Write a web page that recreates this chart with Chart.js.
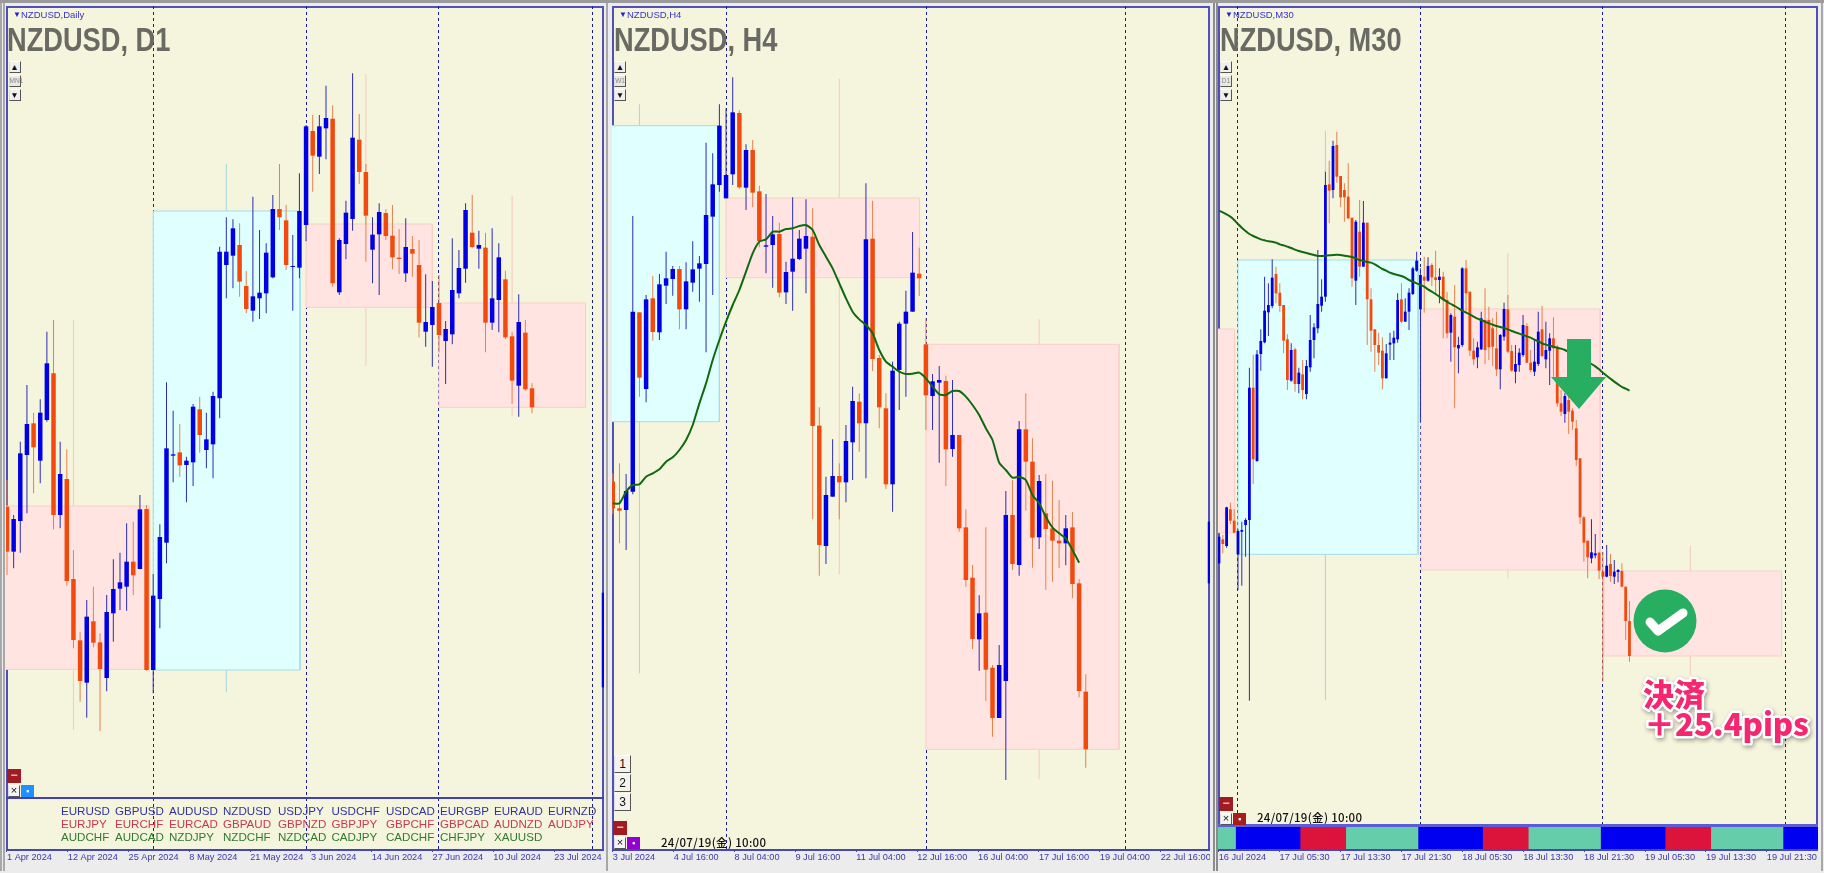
<!DOCTYPE html>
<html><head><meta charset="utf-8"><title>NZDUSD</title>
<script src="https://cdn.jsdelivr.net/npm/chart.js@4/dist/chart.umd.js"></script>
<style>
html,body{margin:0;padding:0;width:1824px;height:873px;overflow:hidden;background:#ececec;font-family:"Liberation Sans",sans-serif}
.abs{position:absolute}
.frame{position:absolute;box-sizing:border-box;border:2px solid #5050b8;background:#f5f4dc}
.side{position:absolute;top:3px;height:868px;width:2px;background:#8c8c8c}
canvas{position:absolute;display:block;filter:blur(0.35px)}
.title{position:absolute;font-family:"Liberation Sans",sans-serif;font-weight:bold;font-size:33px;line-height:33px;color:#6a6a64;white-space:pre;transform:scaleX(0.825);transform-origin:0 0}
.sym{position:absolute;font-size:9.5px;line-height:11px;color:#3333cc;white-space:pre}
.btn{position:absolute;box-sizing:border-box;background:#f0f0ec;border:1px solid;border-color:#fff #555 #555 #ddd;text-align:center;color:#111;font-size:8px;line-height:11px}
.tbl{position:absolute;font-size:11.6px;line-height:13px;white-space:pre}
.stamp{position:absolute;font-size:11.5px;line-height:13px;color:#111;font-family:"Noto Sans CJK JP","Liberation Sans",sans-serif;font-weight:500;letter-spacing:.3px;white-space:pre}
</style></head><body>
<script>
// ---- NZDUSD Daily, read in points off the picture
const d1Open=[880,745,837,1035,1130,1018,1140,1280,855,963,663,479,352,536,473,366,560,634,640,715,693,873,390,603,772,1033,1043,1005,1013,1172,1050,1067,1205,1605,1633,1665,1542,1468,1505,1520,1568,1773,1739,1599,1597,1725,2007,1930,2015,2044,1523,1668,1743,1981,1884,1651,1697,1761,1693,1627,1580,1653,1605,1405,1425,1491,1377,1397,1520,1594,1702,1654,1657,1432,1500,1562,1391,1243,1402,1235];
const d1Close=[745,843,1040,1128,1058,1162,1310,855,978,657,480,357,550,472,393,564,633,653,715,674,872,390,613,789,1055,1037,1004,1018,1180,1095,1082,1212,1645,1645,1715,1555,1473,1511,1522,1642,1773,1748,1605,1602,1767,2021,1933,2021,2046,1550,1680,1762,1987,1884,1753,1696,1764,1692,1628,1623,1659,1639,1432,1434,1479,1395,1413,1530,1596,1770,1659,1665,1432,1505,1628,1388,1258,1434,1232,1178];
const d1High=[960,855,1075,1245,1162,1202,1405,1440,1075,1052,750,505,600,640,500,615,722,742,830,835,915,885,678,827,1253,1168,1128,1030,1188,1210,1162,1225,1660,1748,1742,1730,1587,1810,1710,1670,1815,1908,1785,1695,1880,2025,2055,2055,2143,2084,1685,1798,2180,2058,1908,1748,1790,1772,1785,1713,1745,1692,1680,1577,1557,1575,1437,1685,1650,1790,1815,1708,1702,1715,1670,1588,1405,1517,1440,1250];
const d1Low=[675,695,742,860,920,950,1135,812,815,643,455,295,247,458,207,326,475,570,568,615,692,388,320,515,710,953,970,893,942,1042,995,965,1145,1505,1535,1510,1460,1435,1443,1460,1565,1710,1590,1468,1565,1676,1825,1878,1922,1540,1515,1622,1708,1848,1615,1550,1515,1680,1592,1578,1554,1570,1388,1360,1300,1343,1248,1367,1505,1552,1655,1594,1343,1410,1403,1383,1188,1150,1228,1160];
const d1Ticks=["1 Apr 2024","12 Apr 2024","25 Apr 2024","8 May 2024","21 May 2024","3 Jun 2024","14 Jun 2024","27 Jun 2024","10 Jul 2024","23 Jul 2024"];
const d1Seps=[22,45,65,88.1];
const d1BoxFrom=[-1,22,45,65], d1BoxTo=[21.4,44.1,64,87.05], d1BoxMid=[10,33,54,76];
const d1BoxTop=[882,1767,1728,1491], d1BoxBottom=[392,390,1478,1178], d1BoxHigh=[1440,1908,2178,1812], d1BoxLow=[210,323,1302,1152];
const d1BoxKind=["down","up","down","down"];
const d1Edge=[338,622];

// ---- NZDUSD H4
const h4Open=[955,875,870,925,1463,1233,1505,1403,1543,1563,1593,1472,1552,1594,1608,1750,1845,1805,1877,2061,1837,1950,1826,1660,1665,1698,1523,1585,1623,1654,1690,1123,762,910,972,953,1073,1195,1130,1684,1326,1175,947,1290,1429,1465,1579,1367,1212,1252,1257,1053,1095,818,667,482,562,397,246,357,855,705,1112,1015,788,860,815,778,770,818,650,325];
const h4Close=[875,868,927,1465,1267,1502,1404,1547,1565,1593,1472,1556,1592,1610,1755,1847,2023,1875,2063,1838,1950,1822,1677,1664,1697,1522,1584,1624,1684,1692,1122,765,915,972,953,1077,1197,1130,1682,1323,1178,947,1288,1429,1465,1582,1565,1214,1256,1260,1052,1095,815,660,483,560,391,246,405,855,708,1112,1015,787,957,813,778,770,815,648,327,152];
const h4High=[980,1010,978,1752,1463,1515,1572,1578,1645,1602,1602,1613,1676,1632,1972,1940,2087,2075,2168,2069,1967,1980,1843,1818,1752,1732,1615,1808,1710,1802,1775,1178,970,1082,1010,1125,1240,1220,1850,1798,1335,1220,1315,1435,1528,1704,1657,1445,1278,1302,1273,1260,1095,872,705,614,818,405,465,927,960,1137,1220,1085,975,978,958,900,855,864,662,377];
const h4Low=[858,770,750,917,1210,1193,1378,1380,1488,1513,1412,1412,1525,1495,1343,1515,1825,1805,1845,1834,1770,1778,1658,1580,1537,1508,1488,1468,1620,1520,842,673,708,910,842,893,960,1045,965,1287,1115,933,865,1170,1210,1465,1512,1110,1110,1012,942,1030,805,640,453,388,297,190,246,60,690,673,868,697,753,630,655,696,704,605,308,97];
const h4Ma=[890,890,925,945,947,970,980,992,1015,1028,1050,1080,1125,1190,1250,1320,1380,1435,1485,1530,1585,1640,1675,1682,1705,1705,1713,1715,1722,1725,1710,1665,1630,1595,1550,1505,1465,1442,1425,1400,1350,1315,1300,1285,1278,1279,1282,1265,1240,1217,1215,1227,1227,1210,1185,1155,1115,1080,1012,990,967,970,960,915,890,850,818,800,785,750,712];
const h4Ticks=["3 Jul 2024","4 Jul 16:00","8 Jul 04:00","9 Jul 16:00","11 Jul 04:00","12 Jul 16:00","16 Jul 04:00","17 Jul 16:00","19 Jul 04:00","22 Jul 16:00"];
const h4Seps=[17.08,47.08,77];
const h4BoxFrom=[-1,17,47], h4BoxTo=[16,46.05,76], h4BoxMid=[4,34,64];
const h4BoxTop=[2023,1806,1367], h4BoxBottom=[1135,1567,152], h4BoxHigh=[2087,2164,1442], h4BoxLow=[380,677,62];
const h4BoxKind=["up","down","down"];
const h4Edge=[650,835];

// ---- NZDUSD M30
const m30Open=[710,782,762,872,838,737,805,825,840,1237,1017,1338,1373,1463,1482,1578,1522,1485,1382,1258,1352,1248,1277,1218,1298,1380,1415,1483,1510,1847,1830,1965,1872,1830,1810,1747,1558,1705,1600,1732,1502,1412,1365,1348,1265,1366,1370,1382,1502,1435,1465,1518,1588,1472,1570,1558,1605,1568,1560,1570,1500,1402,1450,1355,1365,1595,1525,1348,1328,1352,1440,1440,1415,1355,1292,1390,1472,1347,1285,1305,1335,1422,1312,1285,1308,1412,1322,1348,1385,1360,1190,1158,1200,1168,1115,1025,848,778,725,734,742,685,670,708,670,684,687,640,537];
const m30Close=[790,768,878,838,802,807,810,840,1237,1022,1337,1377,1468,1485,1567,1520,1482,1378,1260,1350,1248,1282,1230,1302,1380,1418,1488,1510,1845,1828,1962,1870,1808,1808,1745,1565,1735,1600,1732,1502,1408,1365,1342,1265,1340,1372,1387,1500,1435,1465,1522,1595,1618,1575,1558,1602,1568,1560,1570,1500,1400,1455,1358,1365,1595,1520,1348,1322,1358,1445,1350,1358,1360,1292,1395,1473,1345,1288,1308,1342,1425,1312,1290,1315,1405,1332,1350,1385,1355,1190,1165,1212,1165,1135,1020,848,772,728,743,740,688,670,703,672,685,690,640,537,432];
const m30High=[790,795,880,892,872,812,835,845,1297,1335,1350,1412,1570,1550,1622,1600,1550,1485,1397,1370,1357,1297,1320,1320,1455,1430,1650,1562,1885,1918,1978,2005,1872,1850,1910,1747,1740,1800,1797,1732,1535,1412,1402,1388,1368,1402,1408,1520,1550,1505,1535,1600,1645,1595,1630,1628,1610,1648,1595,1585,1525,1460,1545,1390,1598,1620,1525,1385,1375,1465,1535,1480,1445,1465,1398,1492,1515,1365,1365,1355,1455,1430,1350,1380,1465,1482,1435,1400,1448,1365,1230,1220,1220,1175,1140,1025,852,778,842,798,745,745,765,738,720,693,710,640,597];
const m30Low=[710,740,757,828,800,630,643,730,298,948,1015,1288,1370,1392,1475,1490,1465,1340,1230,1255,1225,1220,1202,1202,1285,1325,1400,1465,1495,1730,1805,1852,1778,1735,1742,1540,1485,1570,1600,1365,1345,1285,1305,1232,1265,1320,1320,1372,1430,1435,1410,1515,1585,1135,1462,1555,1542,1515,1490,1385,1385,1315,1175,1280,1360,1465,1332,1305,1295,1350,1308,1320,1302,1272,1232,1378,1340,1285,1250,1285,1330,1310,1283,1272,1302,1328,1295,1245,1270,1180,1152,1132,1098,1110,1002,828,715,665,710,725,662,355,668,655,648,653,638,480,415];
const m30Ma=[1768,1763,1757,1750,1740,1728,1717,1707,1698,1692,1687,1682,1679,1676,1675,1672,1667,1664,1660,1656,1651,1647,1644,1641,1638,1635,1632,1632,1633,1634,1635,1636,1635,1633,1631,1629,1625,1620,1617,1614,1612,1607,1600,1593,1588,1582,1578,1575,1572,1567,1560,1555,1550,1545,1540,1532,1525,1518,1510,1502,1495,1488,1482,1475,1468,1462,1457,1450,1444,1440,1435,1430,1426,1422,1419,1416,1412,1407,1403,1399,1395,1391,1387,1381,1376,1370,1366,1363,1360,1357,1354,1350,1344,1338,1332,1326,1320,1314,1308,1301,1292,1282,1273,1264,1255,1247,1239,1234,1228];
const m30Ticks=["16 Jul 2024","17 Jul 05:30","17 Jul 13:30","17 Jul 21:30","18 Jul 05:30","18 Jul 13:30","18 Jul 21:30","19 Jul 05:30","19 Jul 13:30","19 Jul 21:30"];
const m30Seps=[5,53,101,149];
const m30BoxFrom=[-1,5,53.2,101.3], m30BoxTo=[4.1,52.4,100.3,148], m30BoxMid=[null,28,76,124];
const m30BoxTop=[1413,1620,1473,687], m30BoxBottom=[802,737,690,432], m30BoxHigh=[null,2008,1642,762], m30BoxLow=[null,300,665,375];
const m30BoxKind=["down","up","down","down"];

// ---- session strip under the M30 chart (hours)
const stripHours=[2.3,8.5,6,9.5,8.5,6,9.5,8.5,6,9.5,4.6];
const stripSessions=["quiet","tokyo","london","ny","tokyo","london","ny","tokyo","london","ny","tokyo"];

// ---- symbol table under the Daily chart
const tblBlue=["EURUSD","GBPUSD","AUDUSD","NZDUSD","USDJPY","USDCHF","USDCAD","EURGBP","EURAUD","EURNZD"];
const tblRed=["EURJPY","EURCHF","EURCAD","GBPAUD","GBPNZD","GBPJPY","GBPCHF","GBPCAD","AUDNZD","AUDJPY"];
const tblGreen=["AUDCHF","AUDCAD","NZDJPY","NZDCHF","NZDCAD","CADJPY","CADCHF","CHFJPY","XAUUSD"];

const UP='#0000e4', DOWN='#f24a0e', UPW='#2c2cb4', DOWNW='#e6814e', FRAME='#4646b4', LABEL='#3a3aae';
const SESSION={quiet:'#66cdaa',tokyo:'#0000f0',london:'#dc143c',ny:'#66cdaa'};
const BOX={up:{fill:'#e0ffff',line:'#a4dcea',wick:'#a4d6e0'},down:{fill:'#ffe4e1',line:'#f9cfc8',wick:'#f7c9bc'}};

function el(cls,txt,css){const d=document.createElement('div');d.className=cls;if(txt!=null)d.textContent=txt;Object.assign(d.style,css||{});document.body.appendChild(d);return d;}

function candleChart(p){
  const c=document.createElement('canvas');c.width=p.w;c.height=867;c.style.left=p.left+'px';c.style.top='6px';document.body.appendChild(c);
  const idx=p.open.map((_,i)=>i);
  const ds=[];
  p.boxFrom.forEach((f,k)=>{
    const s=BOX[p.boxKind[k]],t=p.boxTo[k],a=p.boxTop[k],b=p.boxBottom[k];
    ds.push({type:'line',order:4,fill:'shape',backgroundColor:s.fill,borderColor:s.line,borderWidth:1,pointRadius:0,tension:0,
      data:[{x:f,y:a},{x:t,y:a},{x:t,y:b},{x:f,y:b},{x:f,y:a}]});
    if(p.boxMid[k]!=null) ds.push({type:'line',order:5,fill:false,borderColor:s.wick,borderWidth:1,pointRadius:0,
      data:[{x:p.boxMid[k],y:p.boxLow[k]},{x:p.boxMid[k],y:p.boxHigh[k]}]});
  });
  const dirUp=i=>p.close[i]>=p.open[i];
  ds.push({type:'bar',order:2,grouped:false,barThickness:1,inflateAmount:0,
    backgroundColor:idx.map(i=>dirUp(i)?UPW:DOWNW),data:idx.map(i=>({x:i,y:[p.low[i],p.high[i]]}))});
  ds.push({type:'bar',order:1,grouped:false,barThickness:p.body,inflateAmount:0,
    backgroundColor:idx.map(i=>dirUp(i)?UP:DOWN),data:idx.map(i=>({x:i,y:[p.open[i],p.close[i]]}))});
  if(p.edge) ds.push({type:'bar',order:1,grouped:false,barThickness:p.body,inflateAmount:0,backgroundColor:UP,data:[{x:p.xMax,y:p.edge}]});
  if(p.ma) ds.push({type:'line',order:0,fill:false,borderColor:'#0f6a0f',borderWidth:2,pointRadius:0,tension:0.2,
    data:p.ma.map((v,i)=>({x:i,y:v}))});
  new Chart(c,{type:'bar',data:{datasets:ds},options:{
    responsive:false,animation:false,events:[],layout:{padding:0},
    plugins:{legend:{display:false},tooltip:{enabled:false},title:{display:false}},
    scales:{
      x:{type:'linear',position:'bottom',min:p.xMin,max:p.xMax,offset:false,
        ticks:{display:false},border:{display:false,dash:[3,3]},
        grid:{display:true,offset:false,drawTicks:false,color:'#1c1c94',lineWidth:1},
        afterBuildTicks(s){s.ticks=p.seps.map(v=>({value:v}));},
        afterFit(s){s.height=0;s.paddingLeft=0;s.paddingRight=0;}},
      x2:{type:'linear',position:'bottom',min:p.tMin,max:p.tMax,offset:false,
        grid:{drawOnChartArea:false,offset:false,drawTicks:true,tickLength:2,color:FRAME},
        border:{display:true,color:FRAME,width:2},
        ticks:{align:'start',autoSkip:false,maxRotation:0,padding:0,color:LABEL,font:{family:'"Liberation Sans",sans-serif',size:9.2},
          callback:v=>p.ticks[v]},
        afterBuildTicks(s){s.ticks=p.ticks.map((_,i)=>({value:i}));},
        afterFit(s){s.height=23;s.paddingLeft=0;s.paddingRight=0;}},
      y:{type:'linear',display:false,min:-150,max:2382}
    }}});
}

// page chrome
el('abs',null,{left:0,top:0,width:'1824px',height:'3px',background:'#9a9a9a'});
[0,3,606,1213,1216,1821].forEach(x=>el('side',null,{left:x+'px',background:x%3?'#8c8c8c':'#a8a8a8'}));
[[6,598],[612,598],[1218,600]].forEach(([x,w])=>el('frame',null,{left:x+'px',top:'6px',width:w+'px',height:'845px'}));

candleChart({left:6,w:598,open:d1Open,close:d1Close,high:d1High,low:d1Low,body:4.5,xMin:-0.15,xMax:89.83,tMin:-0.016,tMax:9.82,ticks:d1Ticks,seps:d1Seps,
  boxFrom:d1BoxFrom,boxTo:d1BoxTo,boxMid:d1BoxMid,boxTop:d1BoxTop,boxBottom:d1BoxBottom,boxHigh:d1BoxHigh,boxLow:d1BoxLow,boxKind:d1BoxKind,edge:d1Edge});
candleChart({left:612,w:598,open:h4Open,close:h4Close,high:h4High,low:h4Low,ma:h4Ma,body:4.5,xMin:-0.12,xMax:89.65,tMin:-0.013,tMax:9.81,ticks:h4Ticks,seps:h4Seps,
  boxFrom:h4BoxFrom,boxTo:h4BoxTo,boxMid:h4BoxMid,boxTop:h4BoxTop,boxBottom:h4BoxBottom,boxHigh:h4BoxHigh,boxLow:h4BoxLow,boxKind:h4BoxKind,edge:h4Edge});
candleChart({left:1218,w:600,open:m30Open,close:m30Close,high:m30High,low:m30Low,ma:m30Ma,body:2.8,xMin:-0.26,xMax:157.6,tMin:-0.011,tMax:9.84,ticks:m30Ticks,seps:m30Seps,
  boxFrom:m30BoxFrom,boxTo:m30BoxTo,boxMid:m30BoxMid,boxTop:m30BoxTop,boxBottom:m30BoxBottom,boxHigh:m30BoxHigh,boxLow:m30BoxLow,boxKind:m30BoxKind});

// session strip
(function(){
  el('abs',null,{left:'1218px',top:'824px',width:'600px',height:'3px',background:'#5c5cd8'});
  const c=document.createElement('canvas');c.width=600;c.height=22;c.style.left='1218px';c.style.top='827px';document.body.appendChild(c);
  new Chart(c,{type:'bar',data:{labels:['s'],datasets:stripHours.map((h,i)=>({data:[h],backgroundColor:SESSION[stripSessions[i]],barPercentage:1,categoryPercentage:1,inflateAmount:0.3}))},
    options:{indexAxis:'y',responsive:false,animation:false,events:[],layout:{padding:0},
      plugins:{legend:{display:false},tooltip:{enabled:false}},
      scales:{x:{display:false,stacked:true,min:0,max:78.9},y:{display:false,stacked:true}}}});
})();

// titles
[["NZDUSD, D1",7],["NZDUSD, H4",613.5],["NZDUSD, M30",1220]].forEach(([t,x])=>el('title',t,{left:x+'px',top:'23px'}));
[["NZDUSD,Daily",21,13],["NZDUSD,H4",627,619],["NZDUSD,M30",1233,1225]].forEach(([t,x,a])=>{
  el('sym',t,{left:x+'px',top:'9px'});
  el('sym','▼',{left:a+'px',top:'9px',fontSize:'8px',color:'#2222cc'});
});
// up/down timeframe buttons
[[8.5,"MN1"],[614,"W1"],[1220,"D1"]].forEach(([x,t])=>{
  el('btn','▲',{left:x+'px',top:'61px',width:'12px',height:'12px',fontSize:'8.5px',lineHeight:'10px'});
  el('btn',t,{left:x+'px',top:'75px',width:'12px',height:'12px',fontSize:'6.5px',lineHeight:'10px',color:'#888',background:'#e8e8e4'});
  el('btn','▼',{left:x+'px',top:'89px',width:'12px',height:'12px',fontSize:'8.5px',lineHeight:'10px'});
});
// numbered buttons on H4
["1","2","3"].forEach((t,i)=>el('btn',t,{left:'614px',top:(755+i*19)+'px',width:'17px',height:'18px',fontSize:'12px',lineHeight:'16px',background:'#f5f4ec'}));
// corner buttons
[[7,769,'#1e90ff'],[613,821,'#9400d3'],[1219,797,'#a81c1c']].forEach(([x,y,col])=>{
  el('abs','−',{left:x+'px',top:y+'px',width:'14px',height:'14px',background:'#a01c22',color:'#f0c0c0',fontSize:'12px',lineHeight:'13px',textAlign:'center',fontWeight:'bold'});
  el('btn','×',{left:(x+1)+'px',top:(y+16)+'px',width:'12px',height:'12px',fontSize:'11px',lineHeight:'9px',background:'#f4f4f4'});
  el('abs','▪',{left:(x+14)+'px',top:(y+16)+'px',width:'13px',height:'12px',background:col,color:'#fff',fontSize:'9px',lineHeight:'12px',textAlign:'center'});
});
[["24/07/19(金) 10:00",661,836],["24/07/19(金) 10:00",1257,811]].forEach(([t,x,y])=>el('stamp',t,{left:x+'px',top:y+'px'}));

// daily symbol table
el('abs',null,{left:'6px',top:'797px',width:'598px',height:'2px',background:'#4040b8'});
const tblX=[61,115,169,223,278,331.5,386,440,494,548];
[[tblBlue,'#33339e',804],[tblRed,'#c63a52',817],[tblGreen,'#2f7a2f',830]].forEach(([row,col,y])=>row.forEach((t,i)=>el('tbl',t,{left:tblX[i]+'px',top:y+'px',color:col})));
</script>
<svg class="abs" style="left:0;top:0;pointer-events:none" width="1824" height="873" xmlns="http://www.w3.org/2000/svg">
  <polygon points="1567,339 1591,339 1591,377 1606,377 1579,409 1551,377 1567,377" fill="#27ae60"/>
  <circle cx="1665" cy="621" r="31.5" fill="#27ae60"/>
  <polyline points="1650,622 1658,631 1683,613" fill="none" stroke="#fff" stroke-width="9" stroke-linecap="round" stroke-linejoin="round"/>
  <g style="filter:drop-shadow(1.5px 2px 2px rgba(0,0,0,.35))" font-family="Noto Sans CJK JP" font-weight="900" font-size="31" fill="#f5276f" stroke="#fff" stroke-width="5" paint-order="stroke" stroke-linejoin="round">
    <text x="1643" y="706">決済</text>
    <text x="1644" y="736">＋25.4pips</text>
  </g>
</svg>
</body></html>
